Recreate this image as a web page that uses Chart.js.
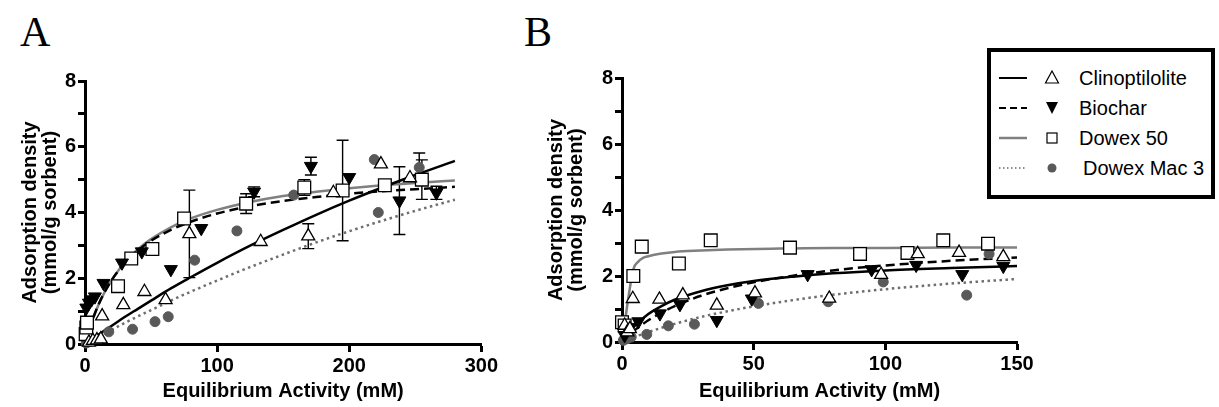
<!DOCTYPE html>
<html>
<head>
<meta charset="utf-8">
<title>Adsorption isotherms</title>
<script src="https://cdn.jsdelivr.net/npm/chart.js@4.4.1/dist/chart.umd.min.js"></script>
<style>
  html, body { margin: 0; padding: 0; background: #fff; }
  body { width: 1219px; height: 407px; position: relative; overflow: hidden; }
  .panel { position: absolute; top: 0; }
  #panelA { left: 0; }
  #panelB { left: 540px; }
  .letter { position: absolute; top: 11px; font-family: 'Liberation Serif', 'Times New Roman', serif; font-size: 42px; line-height: 1; color: #000; }
  #legend { position: absolute; left: 987px; top: 48px; }
  #legend text { font-family: 'Liberation Sans', Arial, sans-serif; font-size: 20px; fill: #000; }
</style>
</head>
<body>
<div class="letter" style="left:20px">A</div>
<div class="letter" style="left:524px">B</div>
<canvas id="panelA" class="panel" width="500" height="407"></canvas>
<canvas id="panelB" class="panel" width="500" height="407"></canvas>

<svg id="legend" width="228" height="151">
  <rect x="2" y="2" width="224" height="147" fill="#fff" stroke="#000" stroke-width="4"/>
  <!-- Clinoptilolite -->
  <line x1="12" y1="30" x2="40" y2="30" stroke="#000" stroke-width="2"/>
  <polygon points="65,23 71.5,35 58.5,35" fill="#fff" stroke="#000" stroke-width="1.2"/>
  <text x="92" y="30" dominant-baseline="central">Clinoptilolite</text>
  <!-- Biochar -->
  <line x1="12" y1="60" x2="40" y2="60" stroke="#000" stroke-width="2" stroke-dasharray="7,4"/>
  <polygon points="59,54 71,54 65,66" fill="#000"/>
  <text x="92" y="60" dominant-baseline="central">Biochar</text>
  <!-- Dowex 50 -->
  <line x1="12" y1="90" x2="40" y2="90" stroke="#808080" stroke-width="2.5"/>
  <rect x="60" y="85" width="10" height="10" fill="#fff" stroke="#000" stroke-width="1.2"/>
  <text x="92" y="90" dominant-baseline="central">Dowex 50</text>
  <!-- Dowex Mac 3 -->
  <line x1="12" y1="120" x2="40" y2="120" stroke="#666" stroke-width="1.5" stroke-dasharray="1.5,2.5"/>
  <circle cx="65" cy="120" r="4.5" fill="#595959"/>
  <text x="96" y="120" dominant-baseline="central">Dowex Mac 3</text>
</svg>

<script>
// ---- panel A: measured points (mM, mmol/g) and error half-widths ----
const aClinoX = [3, 6, 9, 12, 13, 29, 45, 61, 79, 133, 169, 188, 224, 246];
const aClinoY = [0.05, 0.1, 0.12, 0.15, 0.85, 1.19, 1.59, 1.34, 3.35, 3.11, 3.28, 4.6, 5.47, 5.05];
const aClinoErr = [0, 0, 0, 0, 0, 0, 0, 0, 1.33, 0, 0.38, 0, 0, 0];

const aBiocharX = [1, 3, 5, 7.5, 14, 28, 43, 65, 88, 128, 171, 200, 238, 266];
const aBiocharY = [1.1, 1.25, 1.35, 1.44, 1.85, 2.47, 2.81, 2.27, 3.52, 4.63, 5.41, 5.07, 4.36, 4.6];
const aBiocharErr = [0, 0, 0, 0, 0, 0, 0, 0, 0, 0.15, 0.27, 0, 1.03, 0.2];

const aDowex50X = [0.5, 1, 1.5, 25, 35, 51, 75, 122, 166, 195, 227, 255];
const aDowex50Y = [0.3, 0.5, 0.65, 1.76, 2.6, 2.89, 3.82, 4.27, 4.76, 4.67, 4.83, 5.0];
const aDowex50Err = [0, 0, 0, 0, 0, 0, 0, 0.3, 0.24, 1.53, 0, 0.6];

const aMac3X = [1, 4, 18, 36, 53, 63, 83, 115, 158, 219, 222, 253];
const aMac3Y = [0.03, 0.08, 0.37, 0.45, 0.68, 0.83, 2.55, 3.44, 4.53, 5.61, 4.0, 5.37];
const aMac3Err = [0, 0, 0, 0, 0, 0, 0, 0, 0, 0, 0, 0.44];

// ---- panel A: fitted curves ----
const aFitX = [0, 2, 5, 10, 15, 20, 30, 40, 50, 65, 80, 100, 125, 150, 175, 200, 225, 250, 280];
const aFitClino = [0, 0.06, 0.14, 0.28, 0.42, 0.55, 0.82, 1.07, 1.32, 1.69, 2.03, 2.47, 2.99, 3.47, 3.93, 4.36, 4.76, 5.14, 5.57];
const aFitBiochar = [0, 0.29, 0.66, 1.18, 1.59, 1.93, 2.46, 2.84, 3.14, 3.47, 3.72, 3.97, 4.19, 4.35, 4.47, 4.57, 4.65, 4.71, 4.78];
const aFitDowex50 = [0, 0.28, 0.65, 1.17, 1.59, 1.93, 2.48, 2.88, 3.19, 3.55, 3.82, 4.08, 4.32, 4.5, 4.63, 4.74, 4.83, 4.9, 4.97];
const aFitMac3 = [0, 0.04, 0.11, 0.22, 0.33, 0.43, 0.64, 0.84, 1.03, 1.32, 1.59, 1.93, 2.34, 2.72, 3.09, 3.43, 3.75, 4.05, 4.39];

// ---- panel B: measured points ----
const bClinoX = [1, 2, 3, 4.1, 14.2, 23.1, 36, 50.5, 78.7, 98.4, 112.3, 128, 144.8];
const bClinoY = [0.5, 0.3, 0.4, 1.31, 1.29, 1.42, 1.11, 1.48, 1.32, 2.04, 2.67, 2.71, 2.58];

const bBiocharX = [1, 3, 6.2, 14.4, 22, 36, 49.3, 70.5, 94.8, 111.7, 129.2, 144.8];
const bBiocharY = [0.2, 0.45, 0.62, 0.86, 1.14, 0.66, 1.31, 2.05, 2.2, 2.33, 2.05, 2.3];

const bDowex50X = [0, 1, 4.3, 7.5, 21.6, 33.7, 63.8, 90.4, 108.4, 122, 139];
const bDowex50Y = [0.6, 0.5, 2.0, 2.89, 2.38, 3.08, 2.86, 2.67, 2.7, 3.08, 2.98];

const bMac3X = [0.5, 2, 3.5, 9.4, 17.6, 27.5, 51.8, 78.3, 99.2, 130.9, 139.4];
const bMac3Y = [0.05, 0.1, 0.15, 0.23, 0.49, 0.54, 1.17, 1.22, 1.82, 1.42, 2.67];

// ---- panel B: fitted curves ----
const bFitX = [0, 1, 2, 4, 6, 10, 15, 20, 30, 40, 50, 65, 80, 100, 125, 150];
const bFitClino = [0, 0.12, 0.23, 0.42, 0.58, 0.85, 1.09, 1.28, 1.54, 1.72, 1.85, 1.98, 2.08, 2.17, 2.24, 2.3];
const bFitBiochar = [0, 0.08, 0.16, 0.3, 0.43, 0.66, 0.89, 1.09, 1.4, 1.63, 1.81, 2.01, 2.17, 2.32, 2.46, 2.56];
const bFitMac3 = [0, 0.03, 0.07, 0.13, 0.19, 0.3, 0.43, 0.55, 0.76, 0.93, 1.08, 1.27, 1.43, 1.6, 1.77, 1.91];
const bFit50X = [0, 4.3, 6, 8, 10, 15, 20, 30, 40, 60, 80, 100, 125, 150];
const bFitDowex50 = [0, 2.2, 2.42, 2.55, 2.6, 2.68, 2.73, 2.77, 2.8, 2.83, 2.85, 2.85, 2.86, 2.86];

const FONT = "'Liberation Sans', Arial, sans-serif";
Chart.defaults.font.family = FONT;
Chart.defaults.color = '#000';

const pts = (xs, ys) => xs.map((x, i) => ({ x: x, y: ys[i] }));

const clinoMark = { pointStyle: 'triangle', pointRadius: 7.5, pointBackgroundColor: '#fff', pointBorderColor: '#000', pointBorderWidth: 1.3 };
const biocharMark = { pointStyle: 'triangle', pointRotation: 180, pointRadius: 7.5, pointBackgroundColor: '#000', pointBorderColor: '#000', pointBorderWidth: 1 };
const dowex50Mark = { pointStyle: 'rect', pointRadius: 9, pointBackgroundColor: '#fff', pointBorderColor: '#000', pointBorderWidth: 1.3 };
const mac3Mark = { pointStyle: 'circle', pointRadius: 5, pointBackgroundColor: '#595959', pointBorderColor: '#595959', pointBorderWidth: 1 };

function markSet(xs, ys, mark, errs) {
  return Object.assign({ data: pts(xs, ys), errors: errs, showLine: false, clip: false }, mark);
}

function fitSet(xs, ys, color, dash) {
  return {
    data: pts(xs, ys), showLine: true, pointRadius: 0, borderColor: color,
    borderWidth: 2.5, borderDash: dash || [], cubicInterpolationMode: 'monotone',
    fill: false, clip: false
  };
}

// vertical error bars with caps, drawn behind the symbols
const errorBars = {
  id: 'errorBars',
  beforeDatasetsDraw(chart) {
    const { ctx, scales: { x, y } } = chart;
    ctx.save();
    ctx.strokeStyle = '#000';
    ctx.lineWidth = 1.4;
    ctx.beginPath();
    chart.data.datasets.forEach(ds => {
      if (!ds.errors) return;
      ds.data.forEach((p, i) => {
        const e = ds.errors[i];
        if (!e) return;
        const px = x.getPixelForValue(p.x);
        const top = y.getPixelForValue(p.y + e);
        const bot = y.getPixelForValue(p.y - e);
        ctx.moveTo(px, top); ctx.lineTo(px, bot);
        ctx.moveTo(px - 6, top); ctx.lineTo(px + 6, top);
        ctx.moveTo(px - 6, bot); ctx.lineTo(px + 6, bot);
      });
    });
    ctx.stroke();
    ctx.restore();
  }
};

function axisGrid(len) {
  return { display: true, drawOnChartArea: false, drawTicks: true, tickLength: len, tickWidth: 3, tickColor: '#000' };
}

function makePanel(id, datasets, cfg) {
  return new Chart(document.getElementById(id), {
    type: 'scatter',
    data: { datasets: datasets },
    plugins: [errorBars],
    options: {
      responsive: false,
      animation: false,
      devicePixelRatio: 1,
      events: [],
      layout: { padding: { top: cfg.top, right: cfg.right, bottom: 0, left: 0 } },
      plugins: { legend: { display: false }, tooltip: { enabled: false } },
      scales: {
        x: {
          type: 'linear', min: 0, max: cfg.xMax,
          border: { display: true, color: '#000', width: 3 },
          grid: axisGrid(8),
          ticks: { stepSize: cfg.xStep, padding: 2, font: { size: 20, weight: 'bold' }, color: '#000', maxRotation: 0 },
          title: { display: true, text: 'Equilibrium Activity (mM)', font: { size: 20, weight: 'bold' }, color: '#000', padding: { top: 0, bottom: 4 } },
          afterFit: s => { s.height = 407 - cfg.bottomPx; }
        },
        y: {
          type: 'linear', min: 0, max: 8,
          border: { display: true, color: '#000', width: 3 },
          grid: axisGrid(7),
          ticks: {
            stepSize: 1, padding: 2, font: { size: 20, weight: 'bold' }, color: '#000',
            callback: v => (v % 2 === 0 ? v : '')
          },
          title: {
            display: true, text: ['Adsorption density', '(mmol/g sorbent)'],
            font: { size: 20, weight: 'bold', lineHeight: 1.0 }, color: '#000',
            padding: { top: cfg.titlePad, bottom: 0 }
          },
          afterFit: s => { s.width = cfg.yWidth; }
        }
      }
    }
  });
}

makePanel('panelA', [
  markSet(aClinoX, aClinoY, clinoMark, aClinoErr),
  markSet(aBiocharX, aBiocharY, biocharMark, aBiocharErr),
  markSet(aDowex50X, aDowex50Y, dowex50Mark, aDowex50Err),
  markSet(aMac3X, aMac3Y, mac3Mark, aMac3Err),
  fitSet(aFitX, aFitClino, '#000'),
  fitSet(aFitX, aFitBiochar, '#000', [9, 5]),
  fitSet(aFitX, aFitDowex50, '#808080'),
  fitSet(aFitX, aFitMac3, '#6e6e6e', [2.5, 3.5])
], { top: 81, right: 18, bottomPx: 344, yWidth: 85, titlePad: 20, xMax: 300, xStep: 100 });

makePanel('panelB', [
  markSet(bClinoX, bClinoY, clinoMark),
  markSet(bBiocharX, bBiocharY, biocharMark),
  markSet(bDowex50X, bDowex50Y, dowex50Mark),
  markSet(bMac3X, bMac3Y, mac3Mark),
  fitSet(bFitX, bFitClino, '#000'),
  fitSet(bFitX, bFitBiochar, '#000', [9, 5]),
  fitSet(bFit50X, bFitDowex50, '#808080'),
  fitSet(bFitX, bFitMac3, '#6e6e6e', [2.5, 3.5])
], { top: 78, right: 23, bottomPx: 342, yWidth: 82, titlePad: 6, xMax: 150, xStep: 50 });
</script>
</body>
</html>
